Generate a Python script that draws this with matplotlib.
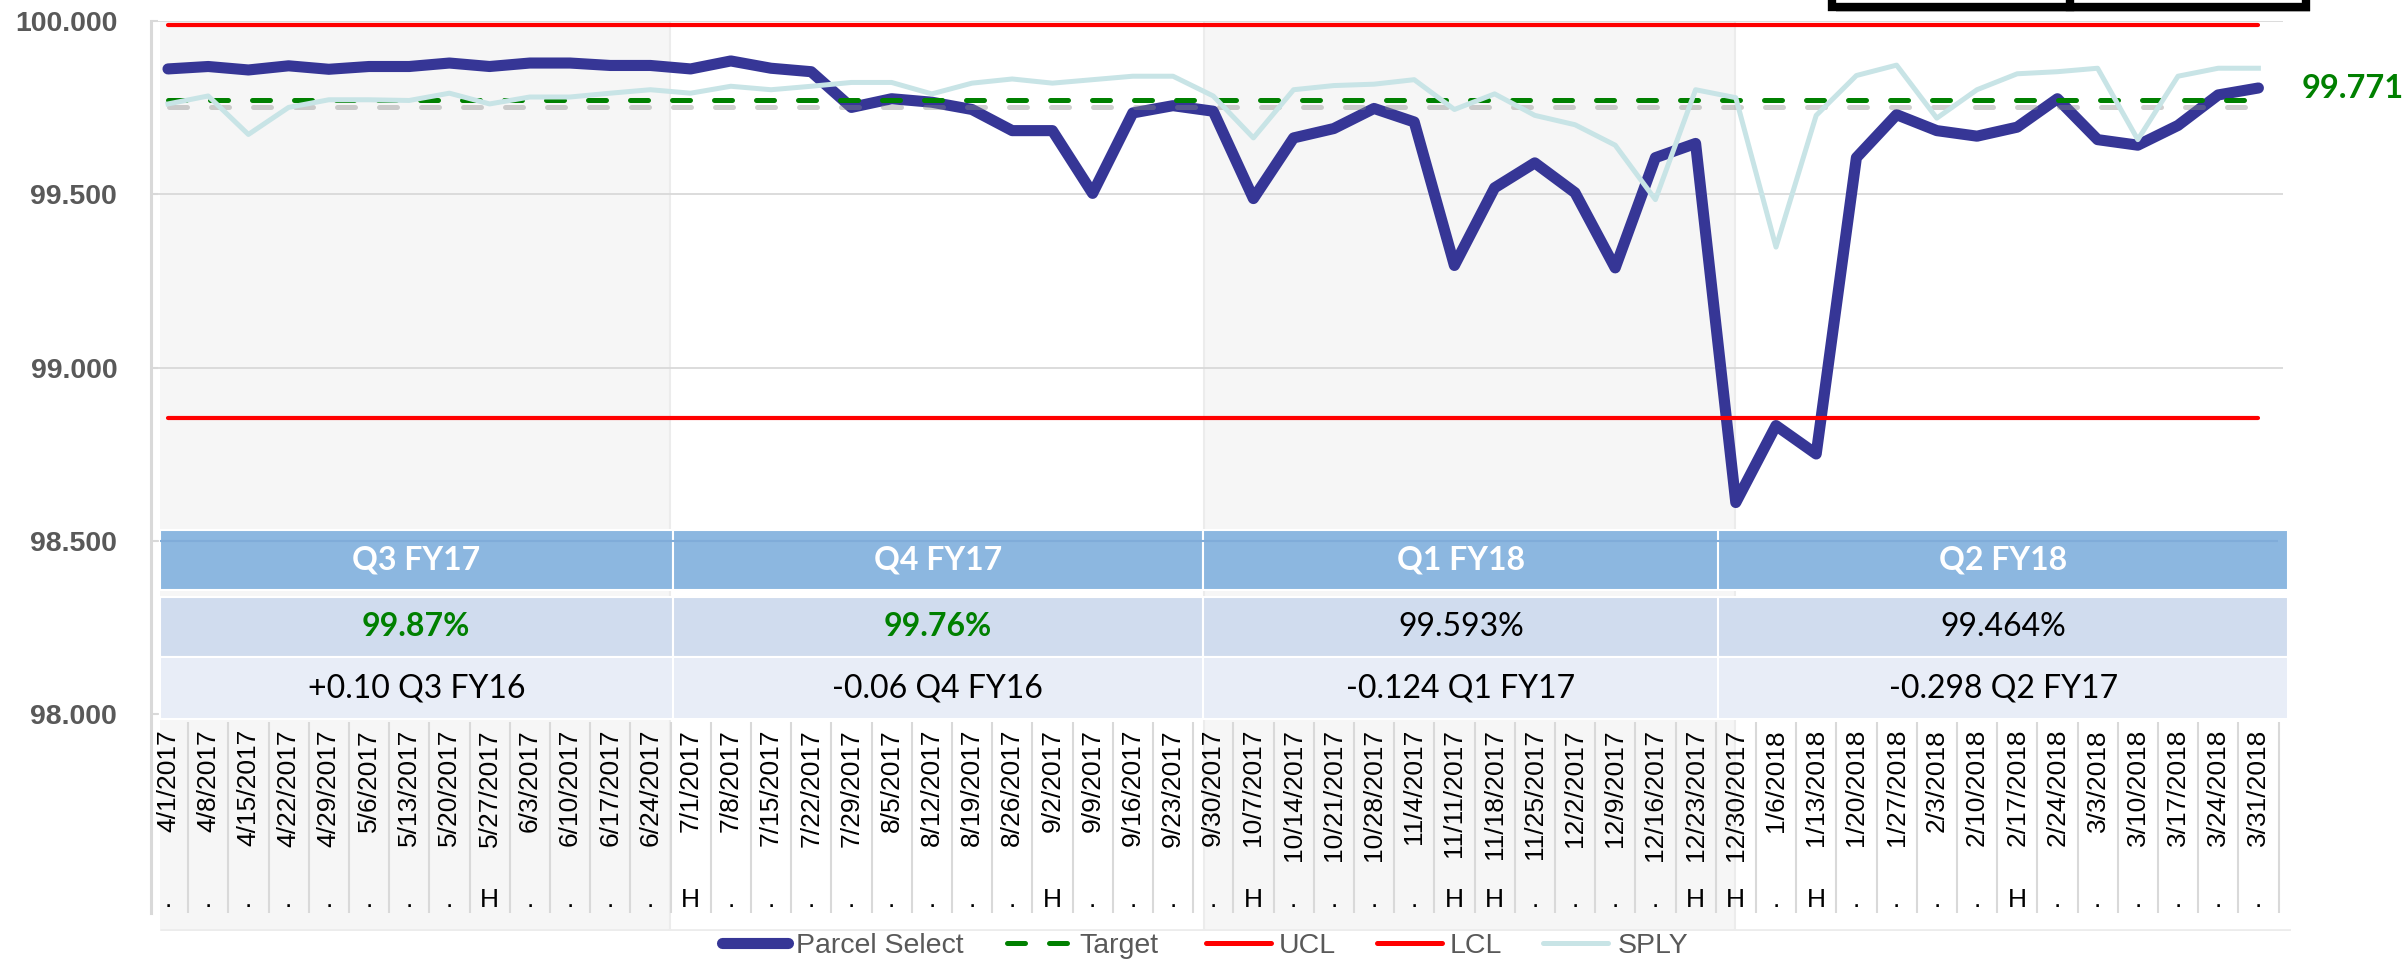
import matplotlib
matplotlib.use("Agg")
import matplotlib.pyplot as plt
import matplotlib.patheffects as pe
from matplotlib.patches import Rectangle
from matplotlib.lines import Line2D
import numpy as np

plt.rcParams["font.family"] = "Liberation Sans"

weeks = [
    "4/1/2017", "4/8/2017", "4/15/2017", "4/22/2017", "4/29/2017", "5/6/2017", "5/13/2017",
    "5/20/2017", "5/27/2017", "6/3/2017", "6/10/2017", "6/17/2017", "6/24/2017",
    "7/1/2017", "7/8/2017", "7/15/2017", "7/22/2017", "7/29/2017", "8/5/2017", "8/12/2017",
    "8/19/2017", "8/26/2017", "9/2/2017", "9/9/2017", "9/16/2017", "9/23/2017",
    "9/30/2017", "10/7/2017", "10/14/2017", "10/21/2017", "10/28/2017", "11/4/2017", "11/11/2017",
    "11/18/2017", "11/25/2017", "12/2/2017", "12/9/2017", "12/16/2017", "12/23/2017",
    "12/30/2017", "1/6/2018", "1/13/2018", "1/20/2018", "1/27/2018", "2/3/2018", "2/10/2018",
    "2/17/2018", "2/24/2018", "3/3/2018", "3/10/2018", "3/17/2018", "3/24/2018", "3/31/2018",
]
holiday = [
    ".", ".", ".", ".", ".", ".", ".", ".", "H", ".", ".", ".", ".",
    "H", ".", ".", ".", ".", ".", ".", ".", ".", "H", ".", ".", ".",
    ".", "H", ".", ".", ".", ".", "H", "H", ".", ".", ".", ".", "H",
    "H", ".", "H", ".", ".", ".", ".", "H", ".", ".", ".", ".", ".", ".",
]
parcel_select = [
    99.862, 99.869, 99.859, 99.871, 99.861, 99.869, 99.869, 99.879, 99.869, 99.879, 99.879, 99.872, 99.872,
    99.862, 99.885, 99.864, 99.854, 99.751, 99.776, 99.766, 99.745, 99.684, 99.684, 99.503, 99.735, 99.756,
    99.740, 99.488, 99.663, 99.690, 99.748, 99.709, 99.295, 99.519, 99.591, 99.505, 99.288, 99.606, 99.647,
    98.611, 98.833, 98.751, 99.606, 99.730, 99.684, 99.668, 99.694, 99.776, 99.658, 99.642, 99.699, 99.787, 99.807,
]
sply = [
    99.761, 99.784, 99.673, 99.751, 99.773, 99.773, 99.771, 99.792, 99.761, 99.781, 99.781, 99.792, 99.802,
    99.792, 99.812, 99.802, 99.812, 99.823, 99.823, 99.790, 99.821, 99.833, 99.821, 99.831, 99.841, 99.841,
    99.784, 99.663, 99.802, 99.814, 99.818, 99.831, 99.745, 99.790, 99.728, 99.701, 99.642, 99.485, 99.802,
    99.779, 99.348, 99.728, 99.843, 99.873, 99.720, 99.802, 99.848, 99.854, 99.864, 99.658, 99.841, 99.864, 99.864,
]
target = 99.771
ucl = 99.99
lcl = 98.856

quarters = ["Q3 FY17", "Q4 FY17", "Q1 FY18", "Q2 FY18"]
quarter_scores = ["99.87%", "99.76%", "99.593%", "99.464%"]
score_met = [True, True, False, False]
quarter_change = ["+0.10 Q3 FY16", "-0.06 Q4 FY16", "-0.124 Q1 FY17", "-0.298 Q2 FY17"]

# pixel layout of the original picture
W, H = 2407, 966
X0, DX = 168.0, 40.2          # centre of first week, width of a week
Y100, PPU = 21.1, 346.6       # row of 100.000, pixels per unit


def kx(px):
    return (px - X0) / DX


def vy(px):
    return 100 - (px - Y100) / PPU


fig = plt.figure(figsize=(W / 100, H / 100), dpi=100)
ax = fig.add_axes([150.5 / W, 1 - 931 / H, (2291 - 150.5) / W, (931 - Y100) / H])
ax.set_xlim(kx(150.5), kx(2291))
ax.set_ylim(vy(931), 100.0)

x = np.arange(len(weeks))
n = len(weeks)

# quarter shading
for a, b in [(160, 670), (1204, 1735)]:
    ax.axvspan(kx(a), kx(b), color="#f6f6f6", zorder=0, lw=0)
for b in [670, 1204, 1735]:
    ax.axvline(kx(b), color="#ececec", lw=1.5, zorder=0.5)
ax.hlines(vy(930), kx(160), kx(2291), color="#ececec", lw=2, zorder=0.5)

# grid
yticks = np.arange(98.0, 100.01, 0.5)
ax.hlines(yticks, kx(150.5), kx(2283), color="#d9d9d9", lw=1.3, zorder=1)

# series
ax.plot(x, parcel_select, color="#363696", lw=8, solid_capstyle="round",
        solid_joinstyle="round", zorder=5, clip_on=False)
ax.plot(x, [target] * n, color="#008000", lw=3.6, dashes=(3.6, 4.8),
        dash_capstyle="round", zorder=6,
        path_effects=[pe.SimpleLineShadow(offset=(0.8, -4.5), shadow_color="#8a8a8a", alpha=0.4),
                      pe.Normal()])
ax.plot(x, [ucl] * n, color="#ff0000", lw=3, zorder=6, clip_on=False, solid_capstyle="round")
ax.plot(x, [lcl] * n, color="#ff0000", lw=3, zorder=6, solid_capstyle="round")
ax.plot(x, sply, color="#c8e4e6", lw=3.6, zorder=7, solid_joinstyle="round")

ax.text(kx(2302), 99.805, f"{target:.3f}", color="#008000", fontweight="bold",
        fontsize=23.5, family="Lato", ha="left", va="center")

# quarter table
col_edges = [kx(160), kx(672.5), kx(1203), kx(1718.5), kx(2287.7)]
rows = [(530, 589.5, "#8cb7e0"), (596.5, 656.5, "#d0dcee"), (657.5, 719.5, "#e8edf7")]
for r0, r1, c in rows:
    for i in range(4):
        ax.add_patch(Rectangle((col_edges[i], vy(r1)), col_edges[i + 1] - col_edges[i],
                               vy(r0) - vy(r1), facecolor=c, edgecolor="white", lw=1.5, zorder=8))
ax.hlines(98.5, kx(160), kx(2278), color="#80acd9", lw=1.5, zorder=8.5)

for i in range(4):
    cx = (col_edges[i] + col_edges[i + 1]) / 2
    ax.text(cx, vy(559.5), quarters[i], color="white", fontweight="bold", fontsize=23,
            family="Lato", ha="center", va="center", zorder=9)
    if score_met[i]:
        ax.text(cx, vy(626.5), quarter_scores[i], color="#008000", fontweight="bold",
                fontsize=23, family="Lato", ha="center", va="center", zorder=9)
    else:
        ax.text(cx, vy(626.5), quarter_scores[i], color="black", fontsize=23,
                family="Lato", ha="center", va="center", zorder=9)
    ax.text(cx, vy(689), quarter_change[i], color="black", fontsize=23,
            family="Lato", ha="center", va="center", zorder=9)

# week labels
ax.vlines(x + 0.5, vy(913), vy(722), color="#d9d9d9", lw=1.5, zorder=2)
for i in range(n):
    ax.text(x[i], vy(729), weeks[i], rotation=90, ha="center", va="top", fontsize=19, zorder=3)
    ax.text(x[i], vy(907), holiday[i], ha="center", va="baseline", fontsize=19, zorder=3)

# axes styling
ax.set_xticks([])
ax.set_yticks(yticks)
ax.set_yticklabels([f"{v:.3f}" for v in yticks])
ax.tick_params(axis="y", direction="in", length=5, width=1.5, color="#d9d9d9", pad=24,
               labelsize=20.5, labelcolor="#595959")
for lbl in ax.get_yticklabels():
    lbl.set_fontweight("bold")
for s in ["top", "right", "bottom"]:
    ax.spines[s].set_visible(False)
ax.spines["left"].set_color("#d9d9d9")
ax.spines["left"].set_linewidth(2.2)
ax.spines["left"].set_bounds(vy(913), 100.0)

# legend
def fx(px):
    return px / W


ly = 1 - 943 / H
lt = 1 - 953 / H
legend_items = [
    ("Parcel Select", dict(color="#363696", lw=8, solid_capstyle="round"), 722, 788, 796),
    ("Target", dict(color="#008000", lw=3.6, dashes=(3.6, 4.8), dash_capstyle="round"), 1006.5, 1067, 1079.5),
    ("UCL", dict(color="#ff0000", lw=3.6, solid_capstyle="round"), 1205.5, 1270.5, 1279),
    ("LCL", dict(color="#ff0000", lw=3.6, solid_capstyle="round"), 1376.5, 1441.5, 1450),
    ("SPLY", dict(color="#c8e4e6", lw=3.6, solid_capstyle="round"), 1542.5, 1608.5, 1618),
]
for label, style, a, b, t in legend_items:
    fig.add_artist(Line2D([fx(a), fx(b)], [ly, ly], transform=fig.transFigure, **style))
    fig.text(fx(t), lt, label, color="#595959", fontsize=20.5, ha="left", va="baseline")

# clipped box at the top right
box = Rectangle((fx(1832), 1 - 6.5 / H), fx(2306) - fx(1832), 0.3, transform=fig.transFigure,
                facecolor="white", edgecolor="black", lw=6, clip_on=False,
                path_effects=[pe.SimplePatchShadow(offset=(3, -4), shadow_rgbFace="#888888", alpha=0.5),
                              pe.Normal()])
fig.add_artist(box)
fig.add_artist(Line2D([fx(2070), fx(2070)], [1 - 6.5 / H, 1.2], transform=fig.transFigure,
                      color="black", lw=6))

fig.savefig("out.png", dpi=100, facecolor="white")
